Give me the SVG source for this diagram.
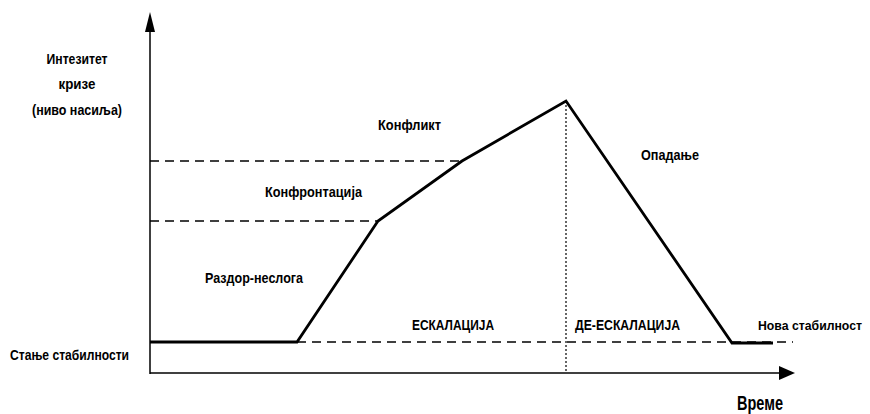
<svg xmlns="http://www.w3.org/2000/svg" width="870" height="414" viewBox="0 0 870 414">
  <style>
    .lbl { font-family: "Liberation Sans", Arial, sans-serif; font-weight: bold; font-size: 15px; fill: #000; }
    .axis { stroke: #000; stroke-width: 1.5; fill: none; }
    .dash { stroke: #000; stroke-width: 1.3; stroke-dasharray: 9 6; fill: none; }
    .dot { stroke: #000; stroke-width: 1.2; stroke-dasharray: 2 2; fill: none; }
    .curve { stroke: #000; stroke-width: 2.8; fill: none; stroke-linejoin: miter; }
  </style>
  <rect width="870" height="414" fill="#fff"/>

  <g id="connectors">
    <!-- level guides -->
    <line class="dash" x1="150" y1="161" x2="462" y2="161"/>
    <line class="dash" x1="150" y1="221" x2="378" y2="221"/>
    <line class="dash" x1="297" y1="342" x2="793" y2="342"/>
    <!-- peak divider -->
    <line class="dot" x1="566" y1="101" x2="566" y2="373"/>
    <!-- axes -->
    <line class="axis" x1="150" y1="374" x2="150" y2="32"/>
    <path d="M150,12 L155,32 L145,32 Z" fill="#000"/>
    <line class="axis" x1="150" y1="373" x2="780" y2="373"/>
    <path d="M795,373 L779,366 L779,380 Z" fill="#000"/>
    <!-- crisis curve -->
    <polyline class="curve" points="150,342 297,342 378,221 462,161 566,101 732,343 773,343"/>
  </g>

  <g id="y-label">
    <text class="lbl" x="77" y="64" text-anchor="middle" textLength="61" lengthAdjust="spacingAndGlyphs">Интезитет</text>
    <text class="lbl" x="77" y="89" text-anchor="middle" textLength="37" lengthAdjust="spacingAndGlyphs">кризе</text>
    <text class="lbl" x="77" y="115" text-anchor="middle" textLength="90" lengthAdjust="spacingAndGlyphs">(ниво насиља)</text>
  </g>
  <g id="stage-conflict">
    <text class="lbl" x="378" y="130" textLength="63" lengthAdjust="spacingAndGlyphs">Конфликт</text>
  </g>
  <g id="stage-confrontation">
    <text class="lbl" x="265" y="197" textLength="97" lengthAdjust="spacingAndGlyphs">Конфронтација</text>
  </g>
  <g id="stage-discord">
    <text class="lbl" x="205" y="283" textLength="98" lengthAdjust="spacingAndGlyphs">Раздор-неслога</text>
  </g>
  <g id="stage-decline">
    <text class="lbl" x="641" y="160" textLength="58" lengthAdjust="spacingAndGlyphs">Опадање</text>
  </g>
  <g id="phase-escalation">
    <text class="lbl" x="412" y="330" textLength="82" lengthAdjust="spacingAndGlyphs">ЕСКАЛАЦИЈА</text>
  </g>
  <g id="phase-deescalation">
    <text class="lbl" x="575" y="330" textLength="105" lengthAdjust="spacingAndGlyphs">ДЕ-ЕСКАЛАЦИЈА</text>
  </g>
  <g id="new-stability">
    <text class="lbl" x="758" y="330" style="font-size:13px" textLength="104" lengthAdjust="spacingAndGlyphs">Нова стабилност</text>
  </g>
  <g id="stability">
    <text class="lbl" x="10" y="360" textLength="119" lengthAdjust="spacingAndGlyphs">Стање стабилности</text>
  </g>
  <g id="x-label">
    <text class="lbl" x="737" y="410" style="font-size:20px" textLength="46" lengthAdjust="spacingAndGlyphs">Време</text>
  </g>
</svg>
